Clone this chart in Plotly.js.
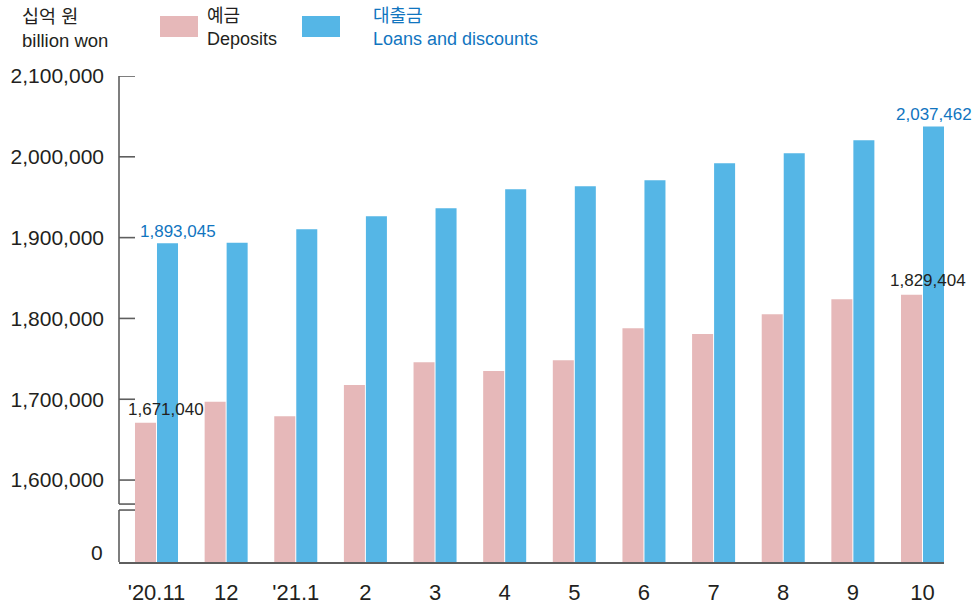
<!DOCTYPE html>
<html>
<head>
<meta charset="utf-8">
<script src="https://cdn.plot.ly/plotly-3.0.1.min.js"></script>
<style>html,body{margin:0;padding:0;background:#fff;}#chart{width:980px;height:608px;}</style>
</head>
<body>
<div id="chart"></div>
<script>
// ---- data ----
const categories = ["'20.11", "12", "'21.1", "2", "3", "4", "5", "6", "7", "8", "9", "10"];
const deposits = [1671040, 1696800, 1679100, 1717500, 1745900, 1734800, 1748400, 1788000, 1780600, 1805300, 1823800, 1829404];
const loans = [1893045, 1893700, 1910400, 1926500, 1936400, 1959900, 1963600, 1971000, 1992000, 2004400, 2020500, 2037462];
const yTickVals = [1600000, 1700000, 1800000, 1900000, 2000000, 2100000];
const yTickText = ["1,600,000", "1,700,000", "1,800,000", "1,900,000", "2,000,000", "2,100,000"];
const zeroLabelVal = 1510500;   // where the "0" label of the broken axis sits
const breakUpper = 1570300;     // axis break (upper edge)
const breakLower = 1562900;     // axis break (lower edge)
const yMin = 1498600, yMax = 2100000;

// ---- style ----
const FONT = "Liberation Sans, Arial, 'Noto Sans CJK KR', sans-serif";
const PINK = "#e6b8b9", BLUE = "#55b6e6", BLUE_TXT = "#1175bf", DARK = "#231f20", AXIS = "#5e5e5e";
const W = 980, H = 608, ML = 119, MR = 36, MT = 76, MB = 46;
const PW = W - ML - MR, PH = H - MT - MB;
const px = x => (x - ML) / PW;         // pixel -> paper x
const py = y => (H - MB - y) / PH;     // pixel -> paper y
const tickLenPaper = 16 / PW;

const traces = [
  {type: 'bar', x: categories, y: deposits, name: '예금 Deposits', marker: {color: PINK}, hoverinfo: 'y'},
  {type: 'bar', x: categories, y: loans, name: '대출금 Loans and discounts', marker: {color: BLUE}, hoverinfo: 'y'}
];

const shapes = [];
// vertical axis with break
shapes.push({type: 'line', xref: 'paper', yref: 'y', x0: 0, x1: 0, y0: yMin, y1: breakLower, line: {color: AXIS, width: 1.6}});
shapes.push({type: 'line', xref: 'paper', yref: 'y', x0: 0, x1: 0, y0: breakUpper, y1: yMax, line: {color: AXIS, width: 1.6}});
shapes.push({type: 'line', xref: 'paper', yref: 'y', x0: 0, x1: tickLenPaper, y0: breakUpper, y1: breakUpper, line: {color: AXIS, width: 1.6}});
shapes.push({type: 'line', xref: 'paper', yref: 'y', x0: 0, x1: tickLenPaper, y0: breakLower, y1: breakLower, line: {color: AXIS, width: 1.6}});
yTickVals.forEach(v => shapes.push({type: 'line', xref: 'paper', yref: 'y', x0: 0, x1: tickLenPaper, y0: v, y1: v, line: {color: AXIS, width: 1.6}}));
// legend swatches
shapes.push({type: 'rect', xref: 'paper', yref: 'paper', x0: px(160), x1: px(198), y0: py(37), y1: py(16), fillcolor: PINK, line: {width: 0}});
shapes.push({type: 'rect', xref: 'paper', yref: 'paper', x0: px(302), x1: px(340), y0: py(37), y1: py(16), fillcolor: BLUE, line: {width: 0}});

const last = categories.length - 1;
const annotations = [
  {xref: 'paper', yref: 'paper', x: px(20), y: py(29), xanchor: 'left', yanchor: 'middle', align: 'left', showarrow: false,
   text: '십억 원<br>billion won', font: {family: FONT, size: 18.5, color: DARK}},
  {xref: 'paper', yref: 'paper', x: px(205), y: py(27), xanchor: 'left', yanchor: 'middle', align: 'left', showarrow: false,
   text: '예금<br>Deposits', font: {family: FONT, size: 18, color: DARK}},
  {xref: 'paper', yref: 'paper', x: px(371), y: py(27), xanchor: 'left', yanchor: 'middle', align: 'left', showarrow: false,
   text: '대출금<br>Loans and discounts', font: {family: FONT, size: 18, color: BLUE_TXT}},
  // "0" label of the broken axis
  {xref: 'paper', yref: 'y', x: 0, y: zeroLabelVal, xanchor: 'right', yanchor: 'middle', xshift: -14, showarrow: false,
   text: '0', font: {family: FONT, size: 21, color: DARK}},
  // value labels (x given as category index)
  {x: 0, y: loans[0], xshift: 21, yanchor: 'bottom', yshift: 0, showarrow: false,
   text: loans[0].toLocaleString('en-US'), font: {family: FONT, size: 17, color: BLUE_TXT}},
  {x: last, y: loans[last], xshift: 11, yanchor: 'bottom', yshift: 1, showarrow: false,
   text: loans[last].toLocaleString('en-US'), font: {family: FONT, size: 17, color: BLUE_TXT}},
  {x: 0, y: deposits[0], xshift: 9, yanchor: 'bottom', yshift: 2, showarrow: false,
   text: deposits[0].toLocaleString('en-US'), font: {family: FONT, size: 17, color: DARK}},
  {x: last, y: deposits[last], xshift: 5, yanchor: 'bottom', yshift: 3, showarrow: false,
   text: deposits[last].toLocaleString('en-US'), font: {family: FONT, size: 17, color: DARK}}
];

const layout = {
  width: W, height: H,
  margin: {l: ML, r: MR, t: MT, b: MB, pad: 0},
  paper_bgcolor: '#fff', plot_bgcolor: '#fff',
  showlegend: false,
  barmode: 'group', bargap: 0.368, bargroupgap: 0.045,
  font: {family: FONT, color: DARK},
  xaxis: {
    type: 'category', range: [-0.5385, 11.3087], fixedrange: true,
    showline: true, linecolor: AXIS, linewidth: 1.6, showgrid: false, zeroline: false,
    ticks: '', ticklabelstandoff: 10, tickfont: {family: FONT, size: 22, color: DARK}
  },
  yaxis: {
    range: [yMin, yMax], fixedrange: true,
    showline: false, showgrid: false, zeroline: false,
    tickvals: yTickVals, ticktext: yTickText, ticks: '', ticklabelstandoff: 14,
    tickfont: {family: FONT, size: 21, color: DARK}
  },
  shapes: shapes,
  annotations: annotations
};

Plotly.newPlot('chart', traces, layout, {displayModeBar: false, staticPlot: true});
</script>
</body>
</html>
